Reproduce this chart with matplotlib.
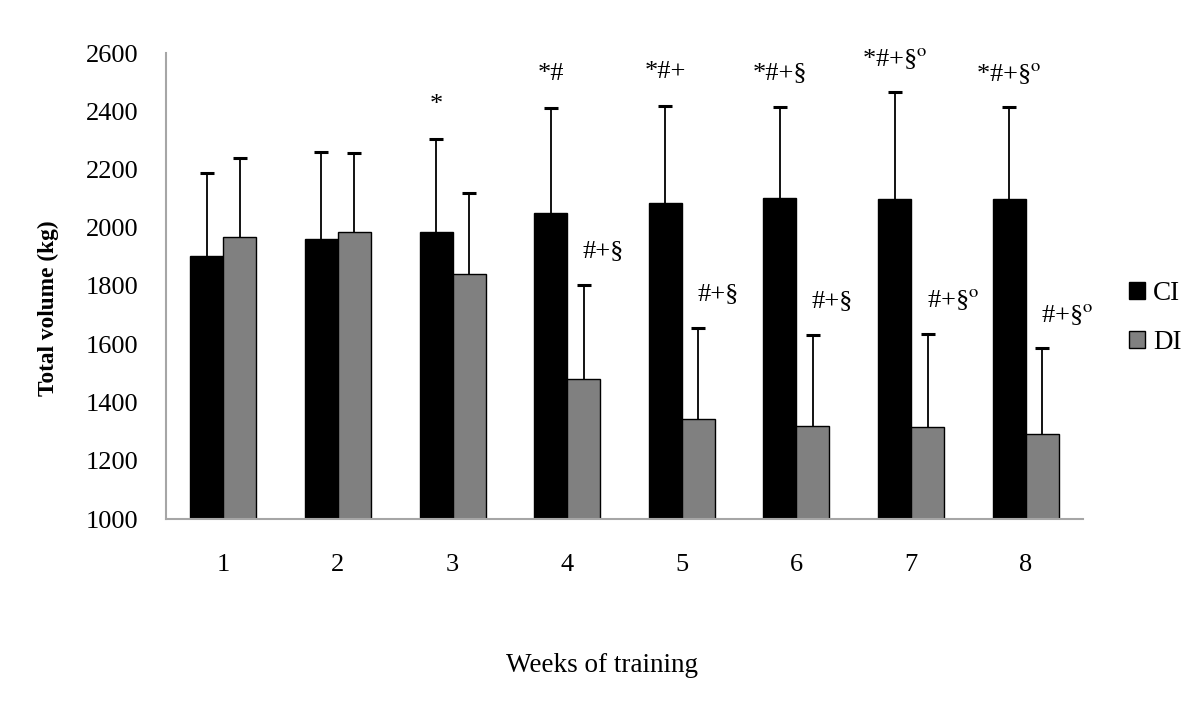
import matplotlib
matplotlib.use("Agg")
import matplotlib.pyplot as plt
from matplotlib.patches import Patch
import numpy as np

plt.rcParams['font.family'] = ['Liberation Serif', 'DejaVu Serif']
plt.rcParams['mathtext.fontset'] = 'stix'

weeks = ['1', '2', '3', '4', '5', '6', '7', '8']
ci_mean = [1903, 1961, 1984, 2052, 2084, 2101, 2099, 2099]
ci_sd = [286, 298, 322, 358, 334, 312, 366, 314]
di_mean = [1969, 1984, 1842, 1480, 1344, 1320, 1316, 1291]
di_sd = [269, 271, 278, 323, 313, 312, 320, 296]
ci_marks = ['', '', '*', '*#', '*#+', '*#+§', '*#+§$^{\\mathrm{o}}$', '*#+§$^{\\mathrm{o}}$']
di_marks = ['', '', '', '#+§', '#+§', '#+§', '#+§$^{\\mathrm{o}}$', '#+§$^{\\mathrm{o}}$']

fig = plt.figure(figsize=(12, 7.01), dpi=100)
ax = fig.add_axes([166/1200, 1-519/701, (1083-166)/1200, (519-53)/701])

x = np.arange(1, len(weeks)+1)
w = 0.288
ax.bar(x - w/2, ci_mean, w, color='black', edgecolor='black', linewidth=1.0, label='CI', zorder=2)
ax.bar(x + w/2, di_mean, w, color='#808080', edgecolor='black', linewidth=1.0, label='DI', zorder=2)
for xs, m, sd in [(x - w/2, ci_mean, ci_sd), (x + w/2, di_mean, di_sd)]:
    eb = ax.errorbar(xs, m, yerr=[np.zeros(len(x)), sd], fmt='none', ecolor='black',
                     elinewidth=1.3, capsize=4.8, capthick=2.2, zorder=3)
    caps = eb[1]
    if len(caps) == 2:
        caps[0].set_visible(False)

for i in range(len(x)):
    if ci_marks[i]:
        ax.annotate(ci_marks[i], (x[i]-w/2, ci_mean[i]+ci_sd[i]), xytext=(0, 34),
                    textcoords='offset pixels', ha='center', va='center', fontsize=19)
    if di_marks[i]:
        ax.annotate(di_marks[i], (x[i]+w/2, di_mean[i]+di_sd[i]), xytext=(-1, 34),
                    textcoords='offset pixels', ha='left', va='center', fontsize=19)

ax.set_xlim(0.5, 8.5)
ax.set_ylim(1000, 2600)
ax.set_yticks(np.arange(1000, 2601, 200))
ax.set_xticks(x)
ax.set_xticklabels(weeks)
ax.tick_params(axis='both', length=0, labelsize=19)
ax.tick_params(axis='y', pad=20)
ax.tick_params(axis='x', pad=25)
for s in ['top', 'right']:
    ax.spines[s].set_visible(False)
for s in ['left', 'bottom']:
    ax.spines[s].set_color('#a6a6a6')
    ax.spines[s].set_linewidth(1.5)

fig.text(48/1200, 1-308/701, 'Total volume (kg)', rotation=90, ha='center', va='center',
         fontsize=16.8, fontweight='bold')
fig.text(602/1200, 1-665/701, 'Weeks of training', ha='center', va='center', fontsize=19.5)

handles = [Patch(facecolor='black', edgecolor='black', label='CI'),
           Patch(facecolor='#808080', edgecolor='black', label='DI')]
fig.legend(handles=handles, loc='center left', bbox_to_anchor=(1115/1200, 1-318/701),
           frameon=False, fontsize=19.5, handlelength=0.6, handleheight=0.6,
           handletextpad=0.3, labelspacing=0.9, borderpad=0)

fig.savefig('out.png', dpi=100)
